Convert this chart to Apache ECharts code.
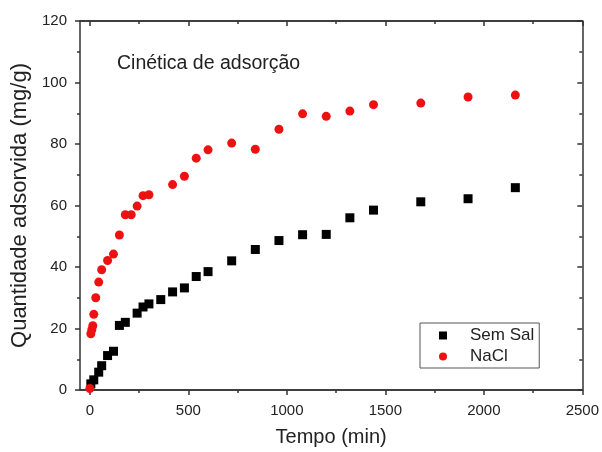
<!DOCTYPE html>
<html>
<head>
<meta charset="utf-8">
<script src="https://cdn.jsdelivr.net/npm/echarts@6/dist/echarts.min.js"></script>
<style>
	html, body { margin: 0; padding: 0; background: #fff; }
	#container { width: 602px; height: 452px; }
</style>
</head>
<body>
<div id="container"></div>
<script>
// dados
var tempoSemSal = [5, 20, 45, 60, 90, 120, 150, 180, 240, 270, 300, 360, 420, 480, 540, 600, 720, 840, 960, 1080, 1200, 1320, 1440, 1680, 1920, 2160];
var semSal = [2.0, 3.3, 5.8, 7.9, 11.2, 12.6, 21.0, 22.0, 25.0, 27.0, 28.0, 29.4, 31.9, 33.2, 36.9, 38.5, 42.0, 45.7, 48.6, 50.5, 50.6, 56.0, 58.5, 61.2, 62.2, 65.8];
var tempoNaCl = [0, 5, 10, 15, 20, 30, 45, 60, 90, 120, 150, 180, 210, 240, 270, 300, 420, 480, 540, 600, 720, 840, 960, 1080, 1200, 1320, 1440, 1680, 1920, 2160];
var nacl = [0.5, 18.3, 19.6, 20.9, 24.6, 30.0, 35.1, 39.1, 42.1, 44.2, 50.4, 57.0, 57.0, 59.8, 63.2, 63.5, 66.8, 69.5, 75.4, 78.1, 80.3, 78.3, 84.8, 89.8, 89.0, 90.7, 92.8, 93.3, 95.3, 95.9];
var xTicks = [0, 500, 1000, 1500, 2000, 2500];
var xMinorTicks = [250, 750, 1250, 1750, 2250];

var kinetics = {
	font: '"Liberation Sans", Arial, sans-serif',
	init() {
		this.initChart();
	},
	pairs(xs, ys) {
		var out = [];
		for (var i = 0; i < xs.length; i++) {
			out.push([xs[i], ys[i]]);
		}
		return out;
	},
	xAxisCfg(pos, ticks, len, inside, labels) {
		return {
			type: 'value',
			position: pos,
			min: -50,
			max: 2500,
			axisLine: { show: true, onZero: false, lineStyle: { color: '#333', width: 1.5 } },
			axisTick: { show: true, inside: inside, length: len, customValues: ticks, lineStyle: { color: '#333', width: 1.5 } },
			axisLabel: labels ? {
				show: true, customValues: ticks, margin: 13, color: '#222', fontSize: 15, fontFamily: this.font,
				formatter: function (v) { return String(v); }
			} : { show: false },
			splitLine: { show: false }
		};
	},
	yAxisCfg(pos, inside, labels) {
		return {
			type: 'value',
			position: pos,
			min: 0,
			max: 120,
			interval: 20,
			axisLine: { show: true, onZero: false, lineStyle: { color: '#333', width: 1.5 } },
			axisTick: { show: true, inside: inside, length: 5, lineStyle: { color: '#333', width: 1.5 } },
			minorTick: { show: true, splitNumber: 2, length: 3, lineStyle: { color: '#333', width: 1.5 } },
			axisLabel: labels ? { show: true, margin: 13, color: '#222', fontSize: 15, fontFamily: this.font } : { show: false },
			splitLine: { show: false }
		};
	},
	initChart() {
		var dom = document.getElementById('container');
		kinetics.myChart = echarts.init(dom, null, { renderer: 'canvas' });

		var xBottom = this.xAxisCfg('bottom', xTicks, 5, false, true);
		xBottom.name = 'Tempo (min)';
		xBottom.nameLocation = 'middle';
		xBottom.nameGap = 37;
		xBottom.nameTextStyle = { fontSize: 20, color: '#222', fontFamily: this.font };

		var yLeft = this.yAxisCfg('left', false, true);
		yLeft.name = 'Quantidade adsorvida (mg/g)';
		yLeft.nameLocation = 'middle';
		yLeft.nameGap = 46;
		yLeft.nameTextStyle = { fontSize: 22, color: '#222', fontFamily: this.font };

		var option = {
			animation: false,
			backgroundColor: '#fff',
			title: {
				text: 'Cinética de adsorção',
				left: 112,
				top: 49,
				textStyle: { fontSize: 19.5, fontWeight: 'normal', color: '#222', fontFamily: this.font }
			},
			legend: {
				orient: 'vertical',
				left: 420,
				top: 323,
				padding: [4, 5, 3, 19],
				itemGap: 4,
				itemWidth: 8,
				itemHeight: 8,
				borderColor: '#555',
				borderWidth: 1,
				textStyle: { fontSize: 17, color: '#222', fontFamily: this.font, padding: [0, 0, 0, 18] },
				data: [
					{ name: 'Sem Sal', icon: 'rect' },
					{ name: 'NaCl', icon: 'circle' }
				]
			},
			grid: { left: 80, right: 19, top: 21, bottom: 61 },
			xAxis: [
				xBottom,
				this.xAxisCfg('bottom', xMinorTicks, 3, false, false),
				this.xAxisCfg('top', xTicks, 5, true, false),
				this.xAxisCfg('top', xMinorTicks, 3, true, false)
			],
			yAxis: [
				yLeft,
				this.yAxisCfg('right', true, false)
			],
			series: [
				{
					name: 'Sem Sal',
					type: 'scatter',
					symbol: 'rect',
					symbolSize: 9,
					itemStyle: { color: '#000', opacity: 1 },
					xAxisIndex: 0,
					yAxisIndex: 0,
					data: this.pairs(tempoSemSal, semSal)
				},
				{
					name: 'NaCl',
					type: 'scatter',
					symbol: 'circle',
					symbolSize: 9,
					itemStyle: { color: '#ee1111', opacity: 1 },
					xAxisIndex: 0,
					yAxisIndex: 0,
					data: this.pairs(tempoNaCl, nacl)
				}
			]
		};
		if (option && typeof option === 'object') {
			kinetics.myChart.setOption(option, true);
		}
	}
};
kinetics.init();
</script>
</body>
</html>
